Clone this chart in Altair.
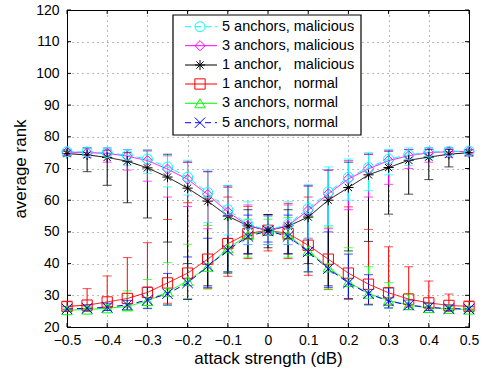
import altair as alt
import pandas as pd

# ---------------- data ----------------
x_vals = [-0.5, -0.45, -0.4, -0.35, -0.3, -0.25, -0.2, -0.15, -0.1, -0.05, 0.0,
          0.05, 0.1, 0.15, 0.2, 0.25, 0.3, 0.35, 0.4, 0.45, 0.5]

labels = ["5 anchors, malicious", "3 anchors, malicious", "1 anchor,\u00a0\u00a0 malicious",
          "1 anchor,\u00a0\u00a0 normal", "3 anchors, normal", "5 anchors, normal"]

mal5_mean = [75.3, 75.2, 75.0, 74.2, 73.0, 70.5, 67.3, 62.4, 57.0, 52.4, 50.5,
             52.4, 57.4, 62.6, 67.2, 70.3, 73.0, 74.3, 75.2, 75.4, 75.5]
mal5_lo = [74.5, 74.0, 73.5, 71.0, 68.4, 64.2, 61.6, 53.0, 49.0, 46.0, 46.0,
           46.0, 48.0, 52.0, 60.0, 63.0, 68.0, 71.0, 73.0, 74.0, 74.5]
mal5_hi = [76.0, 76.5, 76.5, 76.0, 75.8, 74.2, 72.6, 69.5, 64.7, 59.5, 55.0,
           59.5, 65.0, 70.5, 73.0, 75.0, 76.0, 76.5, 76.5, 76.5, 76.0]

mal3_mean = [75.2, 75.0, 74.8, 73.9, 72.5, 69.8, 66.6, 61.8, 56.3, 52.0, 50.4,
             52.0, 56.8, 62.0, 66.7, 69.9, 72.5, 74.0, 75.0, 75.3, 75.4]
mal3_lo = [74.0, 73.5, 72.0, 69.5, 66.0, 61.0, 58.0, 51.0, 48.0, 46.0, 46.0,
           46.0, 48.0, 51.0, 57.0, 61.0, 65.0, 70.0, 72.0, 73.5, 74.0]
mal3_hi = [76.0, 76.5, 76.5, 76.0, 75.5, 74.0, 72.0, 69.0, 64.0, 58.5, 55.0,
           58.5, 64.5, 69.5, 72.5, 74.5, 75.5, 76.0, 76.5, 76.5, 76.0]

mal1_mean = [74.7, 74.3, 73.5, 72.3, 70.2, 67.3, 63.8, 59.7, 55.0, 51.9, 50.5,
             51.8, 54.7, 60.0, 64.0, 68.0, 70.3, 72.6, 73.6, 74.5, 75.0]
mal1_lo = [74.0, 69.0, 64.7, 59.2, 54.4, 46.8, 40.0, 33.0, 37.0, 43.0, 45.0,
           43.0, 40.0, 33.0, 44.0, 47.0, 55.6, 61.9, 66.5, 70.5, 74.0]
mal1_hi = [75.5, 76.5, 75.8, 75.0, 75.8, 74.5, 72.0, 69.0, 64.5, 57.0, 55.5,
           57.0, 64.5, 69.5, 72.0, 74.5, 75.5, 76.0, 76.0, 76.0, 76.0]

nor1_mean = [26.5, 26.9, 27.9, 29.0, 30.9, 33.9, 37.0, 41.4, 46.3, 49.5, 50.5,
             49.5, 45.8, 41.4, 37.0, 33.5, 30.8, 28.8, 27.6, 26.8, 26.5]
nor1_lo = [25.5, 25.8, 26.0, 26.3, 26.8, 27.5, 28.7, 32.1, 36.0, 41.6, 44.0,
           41.6, 36.3, 31.8, 28.7, 27.2, 26.8, 26.3, 26.0, 25.8, 25.5]
nor1_hi = [28.0, 32.1, 36.1, 41.9, 46.6, 53.9, 59.2, 61.3, 61.0, 58.0, 55.5,
           59.0, 61.0, 61.0, 57.9, 50.8, 45.3, 39.0, 34.5, 30.4, 28.1]

nor3_mean = [25.3, 25.5, 25.9, 26.5, 28.2, 31.1, 34.5, 39.0, 44.8, 49.0, 50.5,
             49.0, 44.0, 38.8, 34.2, 30.5, 28.4, 26.9, 26.0, 25.7, 25.5]
nor3_lo = [25.0, 25.0, 25.2, 25.4, 26.0, 27.0, 29.0, 32.0, 37.4, 42.0, 46.0,
           42.0, 37.4, 32.0, 29.0, 27.0, 26.0, 25.5, 25.2, 25.0, 25.0]
nor3_hi = [26.0, 26.5, 27.0, 31.4, 35.0, 40.3, 46.1, 52.0, 54.0, 54.0, 54.0,
           54.5, 54.5, 51.5, 45.0, 39.0, 34.0, 30.5, 27.5, 26.5, 26.0]

nor5_mean = [25.7, 25.9, 26.2, 27.0, 28.5, 30.5, 33.9, 39.2, 44.2, 48.6, 50.3,
             48.6, 43.7, 38.4, 33.9, 30.5, 28.2, 26.9, 26.2, 25.8, 25.7]
nor5_lo = [25.0, 25.0, 25.2, 25.4, 25.8, 26.9, 28.7, 32.5, 37.4, 43.2, 46.8,
           43.2, 37.4, 32.5, 29.0, 27.0, 26.0, 25.5, 25.2, 25.0, 25.0]
nor5_hi = [26.5, 27.0, 27.5, 28.4, 32.6, 36.9, 42.1, 48.0, 55.3, 55.3, 55.3,
           55.3, 55.3, 50.0, 43.0, 36.5, 32.3, 28.5, 27.5, 27.0, 26.5]

x_ticks = [-0.5, -0.4, -0.3, -0.2, -0.1, 0.0, 0.1, 0.2, 0.3, 0.4, 0.5]
y_ticks = [20, 30, 40, 50, 60, 70, 80, 90, 100, 110, 120]

# ---------------- styles ----------------
colors = ["#00FFFF", "#FF00FF", "#000000", "#FF0000", "#00FF00", "#0000FF"]
dashes = [[6, 4], [1, 0], [1, 0], [1, 0], [1, 0], [6, 4]]
asterisk = "M-1,0L1,0M0,-1L0,1M-0.71,-0.71L0.71,0.71M-0.71,0.71L0.71,-0.71"
xmark = "M-1,-1L1,1M-1,1L1,-1"
shapes = ["circle", "diamond", asterisk, "square", "triangle-up", xmark]
sizes = [100, 110, 64, 81, 100, 36]

W, H = 402, 317
FONT = "Liberation Sans"

means = [mal5_mean, mal3_mean, mal1_mean, nor1_mean, nor3_mean, nor5_mean]
los = [mal5_lo, mal3_lo, mal1_lo, nor1_lo, nor3_lo, nor5_lo]
his = [mal5_hi, mal3_hi, mal1_hi, nor1_hi, nor3_hi, nor5_hi]

draw_order = [3, 4, 5, 2, 1, 0]
rows = []
for k in draw_order:
    for i, xv in enumerate(x_vals):
        rows.append(dict(series=labels[k], x=xv, y=means[k][i], lo=los[k][i], hi=his[k][i]))
df = pd.DataFrame(rows)

color_s = alt.Scale(domain=labels, range=colors)
dash_s = alt.Scale(domain=labels, range=dashes)
shape_s = alt.Scale(domain=labels, range=shapes)
size_s = alt.Scale(domain=labels, range=sizes)

x_scale = alt.Scale(domain=[-0.5, 0.5], nice=False, zero=False)
y_scale = alt.Scale(domain=[20, 120], nice=False, zero=False)
x_axis = alt.Axis(values=x_ticks, format=".1~f", title="attack strength (dB)",
                  tickSize=0, labelPadding=6, titlePadding=3, grid=True,
                  labelOverlap=False, labelFlush=False, labelBound=False)
y_axis = alt.Axis(values=y_ticks, title="average rank", tickSize=0,
                  labelPadding=8, titleX=-38, titleY=H / 2, titleAngle=270,
                  titleBaseline="bottom", titleAlign="center", grid=True,
                  labelOverlap=False, labelFlush=False, labelBound=False)


def X(field):
    return alt.X(field, type="quantitative", scale=x_scale, axis=x_axis, title="attack strength (dB)")


def Y(field):
    return alt.Y(field, type="quantitative", scale=y_scale, axis=y_axis, title="average rank")


col = alt.Color("series:N", scale=color_s, legend=None)

base = alt.Chart(df)
err = base.mark_rule(strokeWidth=1).encode(x=X("x"), y=Y("lo"), y2="hi", color=col)
cap_lo = base.mark_tick(orient="horizontal", size=9, thickness=1).encode(x=X("x"), y=Y("lo"), color=col)
cap_hi = base.mark_tick(orient="horizontal", size=9, thickness=1).encode(x=X("x"), y=Y("hi"), color=col)
lines = base.mark_line(strokeWidth=1).encode(
    x=X("x"), y=Y("y"), color=col,
    strokeDash=alt.StrokeDash("series:N", scale=dash_s, legend=None))
pts = base.mark_point(filled=False, strokeWidth=1, opacity=1).encode(
    x=X("x"), y=Y("y"), color=col,
    shape=alt.Shape("series:N", scale=shape_s, legend=None),
    size=alt.Size("series:N", scale=size_s, legend=None))

# inward tick marks (MATLAB style)
xt = alt.Chart(pd.DataFrame({"v": x_ticks}))
yt = alt.Chart(pd.DataFrame({"v": y_ticks}))
xt_bot = xt.mark_rule(color="black", strokeWidth=1).encode(x=X("v"), y=alt.value(H), y2=alt.value(H - 4))
xt_top = xt.mark_rule(color="black", strokeWidth=1).encode(x=X("v"), y=alt.value(0), y2=alt.value(4))
yt_l = yt.mark_rule(color="black", strokeWidth=1).encode(y=Y("v"), x=alt.value(0), x2=alt.value(4))
yt_r = yt.mark_rule(color="black", strokeWidth=1).encode(y=Y("v"), x=alt.value(W), x2=alt.value(W - 4))

# legend box
row_y = [16.7, 35.7, 55.0, 74.0, 93.3, 112.7]
leg_df = pd.DataFrame({"series": labels, "ly": row_y})
leg = alt.Chart(leg_df)
box = alt.Chart(pd.DataFrame({"a": [0]})).mark_rect(
    fill="white", stroke="black", strokeWidth=1.2).encode(
    x=alt.value(106), x2=alt.value(294), y=alt.value(5), y2=alt.value(125))
LY = alt.Y("ly:Q", scale=None, axis=None)
leg_line = leg.mark_rule(strokeWidth=1).encode(
    x=alt.value(118), x2=alt.value(150), y=LY, color=col,
    strokeDash=alt.StrokeDash("series:N", scale=dash_s, legend=None))
leg_pt = leg.mark_point(filled=False, strokeWidth=1, opacity=1).encode(
    x=alt.value(133), y=LY, color=col,
    shape=alt.Shape("series:N", scale=shape_s, legend=None),
    size=alt.Size("series:N", scale=size_s, legend=None))
leg_txt = leg.mark_text(align="left", baseline="middle", fontSize=14.5, font=FONT, color="black").encode(
    x=alt.value(155), y=LY, text="series:N")

chart = alt.layer(
    err, cap_lo, cap_hi, lines, pts,
    xt_bot, xt_top, yt_l, yt_r,
    box, leg_line, leg_pt, leg_txt
).properties(
    width=W, height=H,
    autosize=alt.AutoSizeParams(type="none"),
    padding={"left": 67, "top": 10, "right": 15, "bottom": 47},
    background="white",
).configure_view(
    stroke="black", strokeWidth=1
).configure_axis(
    labelFont=FONT, titleFont=FONT, labelFontSize=14, titleFontSize=17,
    labelColor="black", titleColor="black", titleFontWeight="normal",
    domainColor="black", domainWidth=1,
    gridColor="black", gridDash=[1, 4], gridOpacity=0.55, gridWidth=1,
)

chart.save("out.html", embed_options={"renderer": "svg", "actions": False})
